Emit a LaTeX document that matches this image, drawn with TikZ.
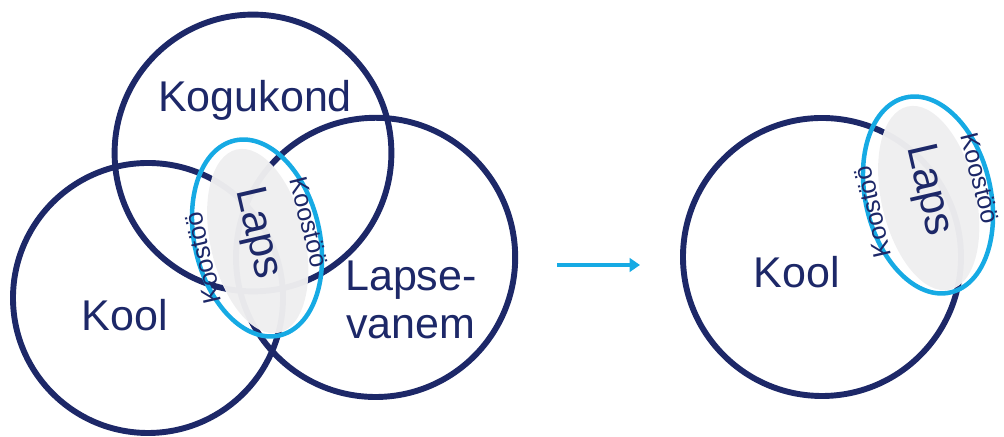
\documentclass[tikz,border=0pt]{standalone}
\usepackage{fontspec}
\setmainfont{Liberation Sans}
\usepackage{xcolor}
\usepackage{tikz}
\usetikzlibrary{arrows.meta,positioning,calc}

\definecolor{navy}{RGB}{29,40,104}
\definecolor{skyblue}{RGB}{22,170,228}
\definecolor{lapsgray}{RGB}{239,239,240}

\begin{document}
\begin{tikzpicture}[
    ring/.style={draw=navy, line width=4.2pt},
    lapsring/.style={draw=skyblue, line width=3.2pt},
    lapsbody/.style={fill=lapsgray, fill opacity=0.97},
    bigtext/.style={text=navy, font=\fontsize{30.6}{34.1}\selectfont, inner sep=0pt},
    smalltext/.style={text=navy, font=\fontsize{18}{20}\selectfont, inner sep=0pt}
]
    \useasboundingbox (0,0) rectangle (25.1,10.925);

    % left: three circles
    \begin{scope}[xshift=0cm]
        \coordinate (kogukond) at (6.325,7.1);
        \coordinate (kool) at (3.7,3.475);
        \coordinate (vanem) at (9.39,4.49);
        \draw[ring] (kogukond) circle (3.46);
        \draw[ring] (kool) circle (3.375);
        \draw[ring] (vanem) circle (3.49);

        \node[bigtext] (kogukondtext) at (6.375,8.425) {Kogukond};
        \node[bigtext] (kooltext) at (3.125,3.05) {Kool};
        \node[bigtext, align=center] (vanemtext) at (10.275,3.43) {Lapse-\\vanem};

        % child in the middle
        \begin{scope}[shift={(6.425,4.975)}]
            \fill[lapsbody, rotate=13] (0,-0.08) ellipse (1.18 and 2.35);
            \draw[lapsring, rotate=13] (0,0) ellipse (1.565 and 2.5);
            \node[bigtext, rotate=-77] (lapsleft) at (0,0.12) {Laps};
            \node[smalltext, rotate=103] (koostooa) at (-1.35,-0.5) {Koostöö};
            \node[smalltext, rotate=-76] (koostoob) at (1.3,0.4) {Koostöö};
        \end{scope}
    \end{scope}

    % arrow
    \coordinate (arrowfrom) at (13.925,4.3);
    \coordinate (arrowto) at (16.0,4.3);
    \draw[skyblue, line width=2.8pt, -{Triangle[length=0.26cm, width=0.34cm]}] (arrowfrom) -- (arrowto);

    % right: school and child
    \begin{scope}[xshift=0cm]
        \coordinate (koolright) at (20.55,4.5);
        \draw[ring] (koolright) circle (3.475);
        \node[bigtext] (kooltextright) at (19.925,4.125) {Kool};

        \begin{scope}[shift={(23.2,6.05)}]
            \fill[lapsbody, rotate=13] (0,-0.08) ellipse (1.18 and 2.35);
            \draw[lapsring, rotate=13] (0,0) ellipse (1.565 and 2.5);
            \node[bigtext, rotate=-77] (lapsright) at (0,0.12) {Laps};
            \node[smalltext, rotate=103] (koostooc) at (-1.38,-0.42) {Koostöö};
            \node[smalltext, rotate=-76] (koostood) at (1.3,0.42) {Koostöö};
        \end{scope}
    \end{scope}
\end{tikzpicture}
\end{document}
